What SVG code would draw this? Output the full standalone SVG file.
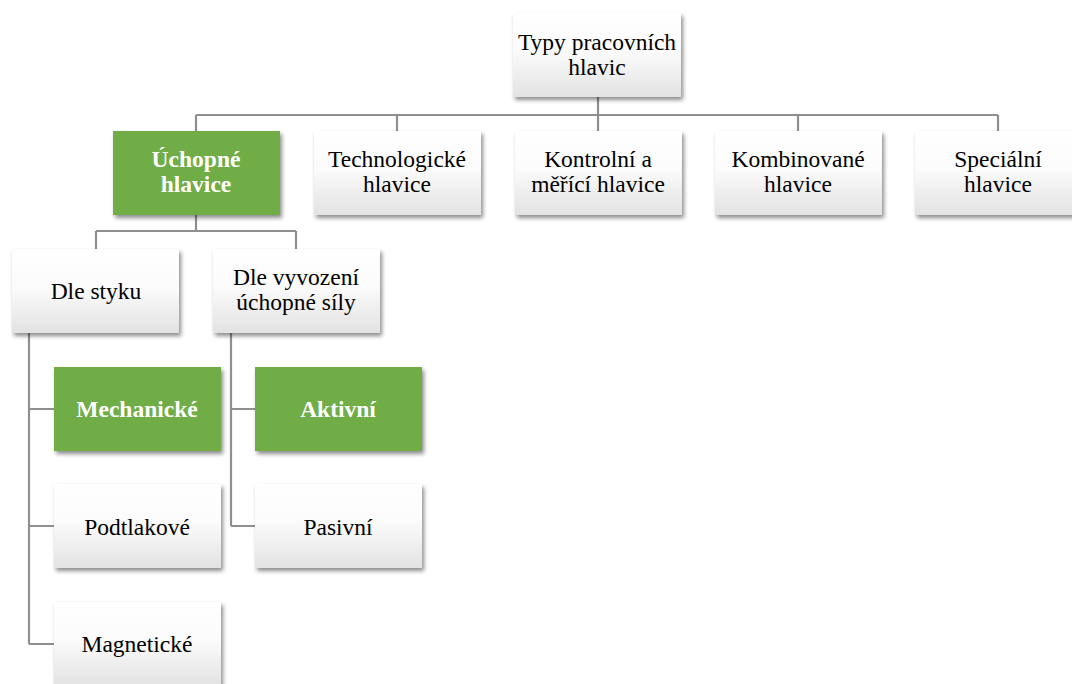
<svg xmlns="http://www.w3.org/2000/svg" width="1072" height="684" viewBox="0 0 1072 684">
  <style>
    .box { stroke: none; filter: url(#shadow); }
    .plain { fill: url(#paper); }
    .accent { fill: #70AD47; }
    .lbl { font-family: "Liberation Serif", "Times New Roman", serif; font-size: 23.5px; text-anchor: middle; fill: #000; }
    .lbl-b { font-family: "Liberation Serif", "Times New Roman", serif; font-size: 23.5px; text-anchor: middle; fill: #fff; font-weight: bold; }
    .wire { fill: none; stroke: #8f8f8f; stroke-width: 2.2; }
  </style>
  <defs>
    <linearGradient id="paper" x1="0" y1="0" x2="0" y2="1">
      <stop offset="0" stop-color="#ffffff"/>
      <stop offset="0.45" stop-color="#fbfbfb"/>
      <stop offset="1" stop-color="#e2e2e2"/>
    </linearGradient>
    <filter id="shadow" x="-10%" y="-10%" width="125%" height="130%">
      <feDropShadow dx="2" dy="3" stdDeviation="2" flood-color="#000" flood-opacity="0.45"/>
    </filter>
  </defs>
  <rect width="1072" height="684" fill="#fff"/>

  <g id="connectors">
    <path class="wire" d="M598 97 V115 M196 115 H998 M196 115 V131 M397 115 V131 M598 115 V131 M798 115 V131 M998 115 V131"/>
    <path class="wire" d="M196 215 V231 M96 231 H296 M96 231 V249 M296 231 V249"/>
    <path class="wire" d="M29 333 V644 M29 409 H54 M29 526 H54 M29 644 H54"/>
    <path class="wire" d="M231 333 V526 M231 409 H255 M231 526 H255"/>
  </g>

  <g id="root">
    <rect class="box plain" x="513" y="13" width="168" height="84"/>
    <text class="lbl" x="597" y="50">Typy pracovních</text>
    <text class="lbl" x="597" y="74.5">hlavic</text>
  </g>

  <g id="uchopne">
    <rect class="box accent" x="113" y="131" width="167" height="84"/>
    <text class="lbl-b" x="196" y="167">Úchopné</text>
    <text class="lbl-b" x="196" y="192">hlavice</text>
  </g>
  <g id="technologicke">
    <rect class="box plain" x="314" y="131" width="167" height="84"/>
    <text class="lbl" x="397" y="167">Technologické</text>
    <text class="lbl" x="397" y="192">hlavice</text>
  </g>
  <g id="kontrolni">
    <rect class="box plain" x="515" y="131" width="167" height="84"/>
    <text class="lbl" x="598" y="167">Kontrolní a</text>
    <text class="lbl" x="598" y="192">měřící hlavice</text>
  </g>
  <g id="kombinovane">
    <rect class="box plain" x="715" y="131" width="167" height="84"/>
    <text class="lbl" x="798" y="167">Kombinované</text>
    <text class="lbl" x="798" y="192">hlavice</text>
  </g>
  <g id="specialni">
    <rect class="box plain" x="915" y="131" width="167" height="84"/>
    <text class="lbl" x="998" y="167">Speciální</text>
    <text class="lbl" x="998" y="192">hlavice</text>
  </g>

  <g id="dle-styku">
    <rect class="box plain" x="12" y="249" width="167" height="84"/>
    <text class="lbl" x="96" y="298.5">Dle styku</text>
  </g>
  <g id="dle-vyvozeni">
    <rect class="box plain" x="213" y="249" width="167" height="84"/>
    <text class="lbl" x="296" y="285">Dle vyvození</text>
    <text class="lbl" x="296" y="310">úchopné síly</text>
  </g>

  <g id="mechanicke">
    <rect class="box accent" x="54" y="367" width="167" height="84"/>
    <text class="lbl-b" x="137" y="417">Mechanické</text>
  </g>
  <g id="podtlakove">
    <rect class="box plain" x="54" y="484" width="167" height="84"/>
    <text class="lbl" x="137" y="534.5">Podtlakové</text>
  </g>
  <g id="magneticke">
    <rect class="box plain" x="54" y="602" width="167" height="84"/>
    <text class="lbl" x="137" y="652">Magnetické</text>
  </g>

  <g id="aktivni">
    <rect class="box accent" x="255" y="367" width="167" height="84"/>
    <text class="lbl-b" x="338" y="417">Aktivní</text>
  </g>
  <g id="pasivni">
    <rect class="box plain" x="255" y="484" width="167" height="84"/>
    <text class="lbl" x="338" y="534.5">Pasivní</text>
  </g>
</svg>
